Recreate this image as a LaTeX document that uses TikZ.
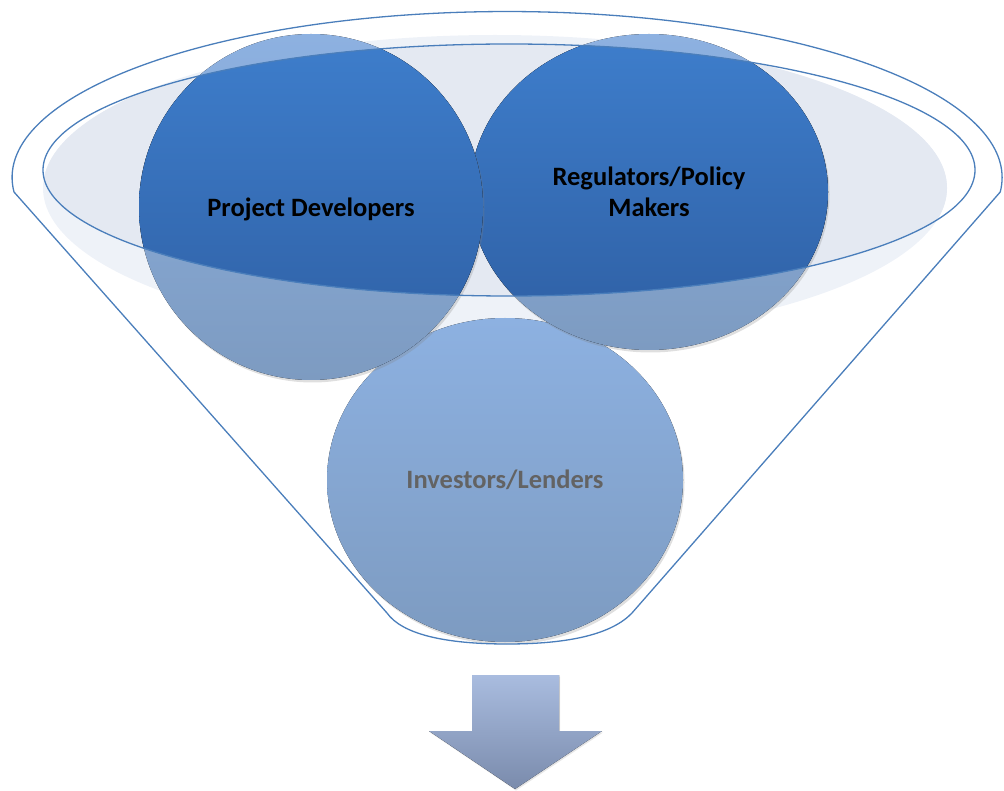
\documentclass[tikz,border=0pt]{standalone}
\usepackage{fontspec}
\setmainfont{Carlito}
\usetikzlibrary{shadows}

\definecolor{rimline}{HTML}{4A7EBB}
\definecolor{mouthlight}{HTML}{EEF2F8}
\definecolor{mouthdark}{HTML}{E4E9F2}
\definecolor{balltop}{HTML}{8DB1E1}
\definecolor{ballbot}{HTML}{7D9BC1}
\definecolor{deeptop}{HTML}{3E7ECC}
\definecolor{deepbot}{HTML}{2E5EA2}
\definecolor{arrowtop}{HTML}{A9BCDF}
\definecolor{arrowbot}{HTML}{7A8BAC}
\definecolor{invgray}{HTML}{636363}

\tikzset{
  ball/.style={top color=balltop,bottom color=ballbot,
    drop shadow={opacity=0.25,shadow xshift=1.5pt,shadow yshift=-2.5pt}},
  deepball/.style={top color=deeptop,bottom color=deepbot},
  balltext/.style={font=\fontsize{26.5}{31}\selectfont\bfseries,align=center},
  funnelline/.style={draw=rimline,line width=1.3pt}
}

\begin{document}
\begin{tikzpicture}[x=1pt,y=-1pt]
      \useasboundingbox (0,0) rectangle (1004,791);
      \coordinate (mouth) at (495,188);
      \coordinate (rim) at (509,170);
      \coordinate (devc) at (311,207);
      \coordinate (regc) at (649,192);
      \coordinate (invc) at (505,480);
      % mouth of the funnel
      \fill[mouthlight] (mouth) ellipse [x radius=452,y radius=153];
      \begin{scope}
        \clip (rim) ellipse [x radius=466,y radius=126];
        \fill[mouthdark] (mouth) ellipse [x radius=452,y radius=153];
      \end{scope}
      % the three balls
      \fill[ball] (invc) ellipse [x radius=178,y radius=162];
      \fill[ball] (regc) ellipse [x radius=179,y radius=158];
      \begin{scope}
        \clip (rim) ellipse [x radius=466,y radius=126];
        \fill[deepball] (regc) ellipse [x radius=179,y radius=158];
      \end{scope}
      \fill[ball] (devc) ellipse [x radius=172,y radius=173];
      \begin{scope}
        \clip (rim) ellipse [x radius=466,y radius=126];
        \fill[deepball] (devc) ellipse [x radius=172,y radius=173];
      \end{scope}
      % outlines
      \draw[funnelline] (rim) ellipse [x radius=466,y radius=126];
      \draw[funnelline] (14,192) arc[start angle=175,end angle=365,x radius=495,y radius=166]
        -- (632,613) .. controls (612,634) and (570,644) .. (507,644)
        .. controls (444,644) and (402,634) .. (387,613) -- cycle;
      \node[balltext] (devs) at ([yshift=-2pt]devc) {Project Developers};
      \node[balltext] (regs) at (regc) {Regulators/Policy\\Makers};
      \node[balltext,text=invgray] (invs) at (invc) {Investors/Lenders};
      % arrow out of the funnel
      \fill[top color=arrowtop,bottom color=arrowbot,
        drop shadow={opacity=0.2,shadow xshift=1pt,shadow yshift=-1.5pt}]
        (472,675) -- (559,675) -- (559,731) -- (602,731) -- (515,789)
        -- (429,731) -- (472,731) -- cycle;
\end{tikzpicture}
\end{document}
